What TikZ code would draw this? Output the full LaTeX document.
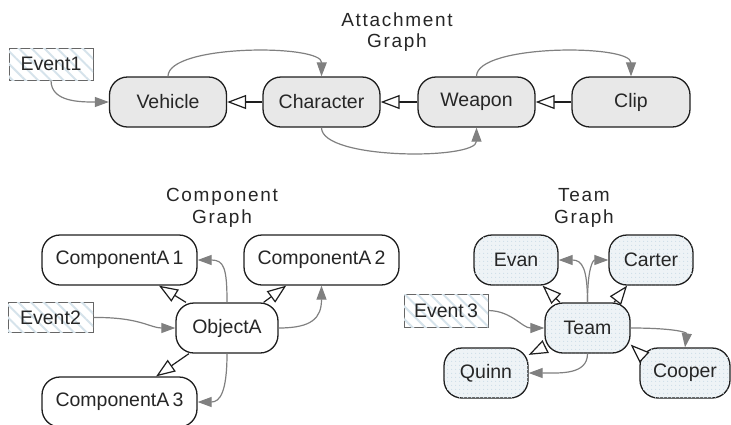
\documentclass[tikz,border=0pt]{standalone}
\usepackage{fontspec}
\setmainfont{Liberation Sans}
\newfontfamily\titlefont[LetterSpace=9]{Liberation Sans}
\usetikzlibrary{arrows.meta,patterns.meta}
\definecolor{attfill}{RGB}{232,232,232}
\definecolor{teamfill}{RGB}{238,243,246}
\definecolor{teamdot}{RGB}{205,222,232}
\definecolor{hatch}{RGB}{214,227,235}
\definecolor{edgegray}{RGB}{128,128,128}
\definecolor{border}{RGB}{30,30,30}
\begin{document}
\begin{tikzpicture}[x=1pt,y=-1pt,
  every node/.style={font=\fontsize{19.5}{22}\selectfont, text=black!85},
  nd/.style={draw=border, line width=1.3pt, rounded corners=18pt, minimum height=50pt, inner sep=0pt},
  att/.style={nd, fill=attfill},
  comp/.style={nd, fill=white},
  team/.style={nd, fill=teamfill, postaction={pattern={Dots[distance=4pt,radius=0.7pt]}, pattern color=teamdot}},
  ev/.style={draw=black!60, line width=0.8pt, fill=white, minimum height=32pt, minimum width=84pt, inner sep=0pt,
    postaction={pattern={Lines[angle=-45,distance=9pt,line width=2pt]}, pattern color=hatch}},
  ttl/.style={align=center, font=\titlefont\fontsize{19}{21.5}\selectfont},
  gar/.style={draw=edgegray, line width=1.2pt, -{Triangle[length=14pt,width=10pt]}},
  oar/.style={draw=border, line width=1.2pt, -{Triangle[open,length=19pt,width=14pt,fill=white]}}
]
\useasboundingbox (0,0) rectangle (731,424);

% ---------- Attachment graph ----------
\node[ttl] (t1) at (397,32) {Attachment\\Graph};
\node[ev] (ev1) at (51,64) {Event1};
\node[att, minimum width=117pt] (veh) at (168,102) {Vehicle};
\node[att, minimum width=117pt] (cha) at (321.5,102) {Character};
\node[att, minimum width=117pt] (wea) at (476.5,102) {Weapon};
\node[att, minimum width=118pt] (clip) at (631,102) {Clip};

\draw[gar] (ev1.south) .. controls (51,102) and (80,102) .. (veh.west);
\draw[gar] (veh.north) .. controls (168,44) and (322,44) .. (cha.north);
\draw[gar] (wea.north) .. controls (476.5,44) and (631,44) .. (clip.north);
\draw[gar] (cha.south) .. controls (321.5,160) and (476.5,160) .. (wea.south);
\draw[oar] (cha.west) -- (veh.east);
\draw[oar] (wea.west) -- (cha.east);
\draw[oar] (clip.west) -- (wea.east);

% ---------- Component graph ----------
\node[ttl] (t2) at (222,208) {Component\\Graph};
\node[comp, minimum width=155pt] (c1) at (119.5,260) {ComponentA\,1};
\node[comp, minimum width=155pt] (c2) at (321.5,260) {ComponentA\,2};
\node[ev, minimum width=85pt, minimum height=30pt] (ev2) at (50.5,317.5) {Event2};
\node[comp, minimum width=102pt] (obj) at (227,328) {ObjectA};
\node[comp, minimum width=155pt] (c3) at (119.5,402) {ComponentA\,3};

\draw[gar] (ev2.east) .. controls (140,317) and (150,328) .. (obj.west);
\draw[gar] (obj.north) .. controls (227,268) and (224,260) .. (c1.east);
\draw[gar] (obj.east) .. controls (312,328) and (321.5,318) .. (c2.south);
\draw[gar] (obj.south) .. controls (227,392) and (220,402) .. (c3.east);
\draw[oar] (obj.148) -- (c1.-33);
\draw[oar] (obj.35) -- (c2.216);
\draw[oar] (obj.214) -- (c3.35);

% ---------- Team graph ----------
\node[ttl] (t3) at (584,208) {Team\\Graph};
\node[team, minimum width=84pt] (evan) at (516,260) {Evan};
\node[team, minimum width=84pt] (carter) at (651,260) {Carter};
\node[ev, minimum height=33pt] (ev3) at (446,310.5) {Event\,3};
\node[team, minimum width=85pt] (tm) at (587.5,328) {Team};
\node[team, minimum width=84pt] (quinn) at (486,373) {Quinn};
\node[team, minimum width=90pt] (cooper) at (685,373) {Cooper};

\draw[gar] (ev3.east) .. controls (512,311) and (522,328) .. (tm.west);
\draw[gar] (tm.north) .. controls (587.5,268) and (582,260) .. (evan.east);
\draw[gar] (tm.north) .. controls (587.5,268) and (593,260) .. (carter.west);
\draw[gar] (tm.east) .. controls (672,328) and (687,332) .. (cooper.north);
\draw[gar] (tm.south) .. controls (587.5,375) and (560,373) .. (quinn.east);
\draw[oar] (tm.137) -- (evan.-44);
\draw[oar] (tm.44) -- (carter.227);
\draw[oar] (tm.204) -- (quinn.23);
\draw[oar] (cooper.156) -- (tm.-21);
\end{tikzpicture}
\end{document}
